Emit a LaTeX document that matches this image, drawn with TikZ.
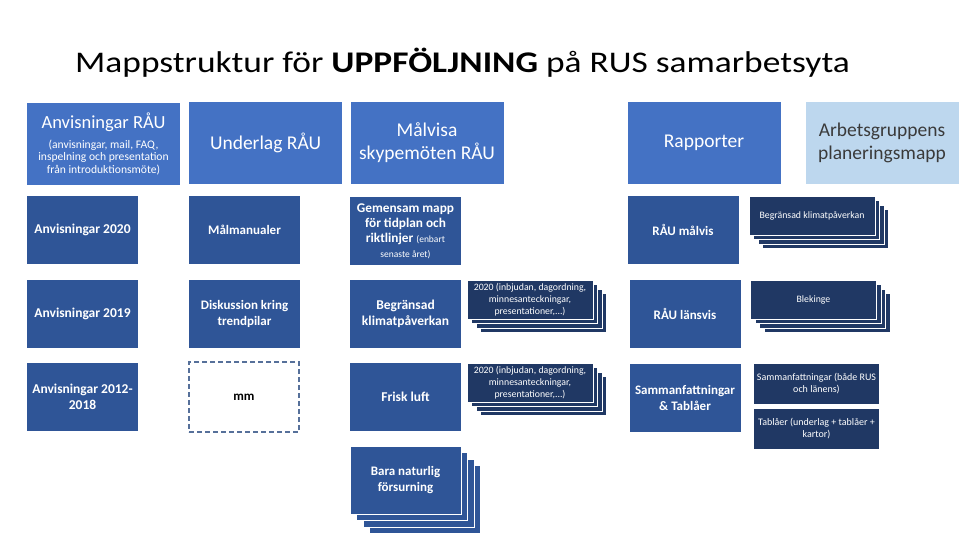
\documentclass[tikz,border=0pt]{standalone}
\usepackage{fontspec}
\setmainfont{Carlito}
\usetikzlibrary{shadows}
\definecolor{medblue}{HTML}{4472C4}
\definecolor{darkblue}{HTML}{2F5597}
\definecolor{navy}{HTML}{203864}
\definecolor{lightblue}{HTML}{BDD7EE}
\definecolor{dashcol}{HTML}{56709A}
\definecolor{greytext}{HTML}{3A3A3A}
\tikzset{
  base/.style={rectangle, inner sep=1pt, align=center, text=white},
  topbox/.style={base, fill=medblue, minimum width=153pt, minimum height=82pt, font=\fontsize{19.5}{23}\selectfont},
  subbox/.style={base, fill=darkblue, minimum width=111pt, minimum height=68pt, font=\bfseries\fontsize{13}{15.5}\selectfont},
  navybox/.style={base, fill=navy, minimum width=125pt, minimum height=40pt, font=\fontsize{10}{12}\selectfont},
  stackfront/.style={base, fill=navy, draw=white, line width=1pt, minimum width=126pt, minimum height=39pt, font=\fontsize{9.8}{12}\selectfont},
  navylayers/.style={
    general shadow={shadow xshift=13.5pt, shadow yshift=-13.5pt, fill=navy, draw=white, line width=1pt},
    general shadow={shadow xshift=9pt, shadow yshift=-9pt, fill=navy, draw=white, line width=1pt},
    general shadow={shadow xshift=4.5pt, shadow yshift=-4.5pt, fill=navy, draw=white, line width=1pt}},
  bluelayers/.style={
    general shadow={shadow xshift=19.5pt, shadow yshift=-19.5pt, fill=darkblue, draw=white, line width=1pt},
    general shadow={shadow xshift=13pt, shadow yshift=-13pt, fill=darkblue, draw=white, line width=1pt},
    general shadow={shadow xshift=6.5pt, shadow yshift=-6.5pt, fill=darkblue, draw=white, line width=1pt}},
  dashbox/.style={rectangle, fill=white, draw=dashcol, line width=2pt, dash pattern=on 5pt off 3pt, minimum width=110pt, minimum height=70pt, font=\bfseries\fontsize{13}{15.5}\selectfont, text=black}
}
\begin{document}
\begin{tikzpicture}[x=1pt, y=-1pt]
\useasboundingbox (0,0) rectangle (960,540);
\fill[white] (0,0) rectangle (960,540);
% title
\node[anchor=base west, inner sep=0pt, font=\fontsize{30}{36}\selectfont] (title) at (75,73)
  {\scalebox{1.18}[1]{Mappstruktur för \textbf{UPPFÖLJNING} på RUS samarbetsyta}};
% top row
\node[topbox, font=\fontsize{11.6}{12.5}\selectfont] (anvR) at (103.5,144) {{\fontsize{18.5}{21}\selectfont Anvisningar RÅU}\\[7pt](anvisningar, mail, FAQ,\\inspelning och presentation\\från introduktionsmöte)};
\node[topbox] (undR) at (265.5,143) {Underlag RÅU};
\node[topbox] (malR) at (427,143) {Målvisa\\skypemöten RÅU};
\node[topbox] (rapp) at (704,143) {Rapporter};
\node[topbox, fill=lightblue, text=greytext] (arb) at (882,143) {Arbetsgruppens\\planeringsmapp};
% column 1
\node[subbox, font=\bfseries\fontsize{13.5}{16}\selectfont] (a2020) at (82.5,230) {Anvisningar 2020};
\node[subbox, font=\bfseries\fontsize{13.5}{16}\selectfont] (a2019) at (82.5,314) {Anvisningar 2019};
\node[subbox, font=\bfseries\fontsize{13.5}{16}\selectfont] (a2012) at (82.5,397) {Anvisningar 2012-\\2018};
% column 2
\node[subbox] (malm) at (244.5,230) {Målmanualer};
\node[subbox] (disk) at (244.5,314) {Diskussion kring\\trendpilar};
\node[dashbox] (mm) at (244,397) {mm};
% column 3
\node[subbox, font=\bfseries\fontsize{13.3}{15}\selectfont] (gem) at (405.5,231) {Gemensam mapp\\för tidplan och\\riktlinjer {\mdseries\fontsize{9.5}{10}\selectfont (enbart}\\{\mdseries\fontsize{9.5}{10}\selectfont senaste året)}};
\node[subbox, font=\bfseries\fontsize{13.5}{16}\selectfont] (begr) at (405.5,314) {Begränsad\\klimatpåverkan};
\node[subbox, font=\bfseries\fontsize{13.5}{16}\selectfont] (frisk) at (405.5,397) {Frisk luft};
\node[subbox, bluelayers, draw=white, line width=1pt] (bara) at (405.5,480) {Bara naturlig\\försurning};
% column 4 stacks
\node[stackfront, navylayers] (s1) at (530,299.5) {2020 (inbjudan, dagordning,\\minnesanteckningar,\\presentationer,...)};
\node[stackfront, navylayers] (s2) at (530,382.5) {2020 (inbjudan, dagordning,\\minnesanteckningar,\\presentationer,...)};
% column 5
\node[subbox] (malvis) at (683,230) {RÅU målvis};
\node[subbox] (lans) at (685,314) {RÅU länsvis};
\node[subbox] (samm) at (685,398) {Sammanfattningar\\\& Tablåer};
% column 6
\node[stackfront, navylayers] (klim) at (812,215.5) {Begränsad klimatpåverkan};
\node[stackfront, navylayers] (blek) at (813.5,299.5) {Blekinge};
\node[navybox] (sammR) at (816.5,384) {Sammanfattningar (både RUS\\och länens)};
\node[navybox] (tabl) at (816.5,429) {Tablåer (underlag + tablåer +\\kartor)};
\end{tikzpicture}
\end{document}
